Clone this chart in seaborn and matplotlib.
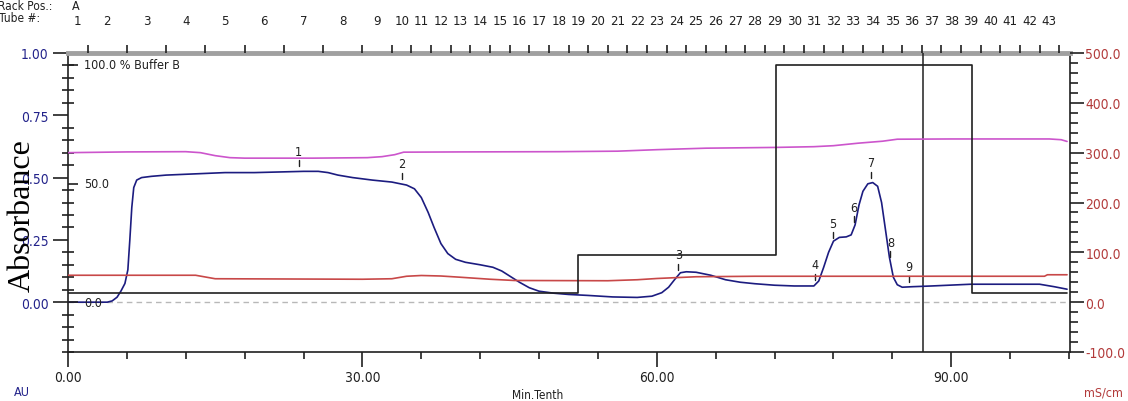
import numpy as np
import pandas as pd
import matplotlib
matplotlib.use("Agg")
import matplotlib.pyplot as plt
import matplotlib.transforms as mtransforms
from matplotlib import font_manager as fm
from matplotlib.ticker import MultipleLocator, FixedLocator, FuncFormatter
import seaborn as sns

# ---------------- data ----------------
# UV absorbance (AU) vs time (Min.Tenth)
uv_time = [0.0, 4.0, 4.5, 5.0, 5.4, 5.8, 6.1, 6.3, 6.5, 6.7, 7.0, 7.5, 8.5, 10, 13, 16, 19, 22, 24,
           25.5, 26.5, 27.5, 29, 31, 33, 34.5, 35.3, 36, 36.7, 37.3, 38.0, 38.7, 39.5, 40.5, 42,
           43.3, 44.2, 45, 46, 47, 48, 49.5, 51, 53, 55.5, 58, 59.5, 60.5, 61.2, 61.8, 62.4, 63,
           64, 65.5, 67, 68.5, 70, 72, 74, 76, 76.5, 77.0, 77.5, 78.0, 78.6, 79.3, 79.8, 80.2,
           80.6, 81.0, 81.5, 82.0, 82.5, 82.9, 83.3, 83.7, 84.1, 84.5, 85.0, 86, 88, 92, 96, 99,
           100.5, 101.8]
uv_abs = [0.0, 0.0, 0.005, 0.02, 0.045, 0.075, 0.13, 0.25, 0.38, 0.46, 0.49, 0.50, 0.505, 0.51,
          0.515, 0.52, 0.52, 0.523, 0.525, 0.525, 0.52, 0.51, 0.50, 0.49, 0.482, 0.47, 0.455,
          0.42, 0.36, 0.30, 0.235, 0.195, 0.172, 0.16, 0.15, 0.14, 0.125, 0.105, 0.08, 0.058,
          0.044, 0.036, 0.031, 0.027, 0.021, 0.019, 0.024, 0.038, 0.06, 0.09, 0.118, 0.122,
          0.12, 0.108, 0.09, 0.08, 0.074, 0.068, 0.065, 0.065, 0.085, 0.14, 0.20, 0.245, 0.26,
          0.262, 0.27, 0.31, 0.39, 0.445, 0.475, 0.48, 0.465, 0.40, 0.29, 0.18, 0.10, 0.07,
          0.06, 0.062, 0.065, 0.072, 0.072, 0.072, 0.062, 0.052]

# pink trace (right axis, mS/cm scale)
pink_time = [0, 6, 12, 13.5, 15, 16.5, 18, 25, 30.5, 32, 33.3, 34.2, 40, 50, 56, 60, 65, 72, 76,
             78, 80.5, 83, 84.5, 90, 100, 101.2, 101.8]
pink_val = [300, 301.5, 302, 300, 294, 290, 289, 289, 290, 292, 296, 301, 301.5, 302, 303, 306,
            309, 310.5, 312, 314, 319, 323, 327, 327.5, 327.5, 326, 322.5]

# red trace (right axis, mS/cm)
red_time = [0, 13, 15, 30, 33, 34.5, 36, 38, 40, 43, 45.5, 55, 58, 60, 64, 70, 99.5, 99.8, 101.8]
red_val = [54, 54, 47, 46, 47, 52, 53.5, 52.5, 50, 46, 43.5, 43, 45, 47.5, 51, 52, 52, 55, 55]

# % Buffer B gradient (step)
buffer_time = [0, 52.0, 72.1, 92.1, 101.8]
buffer_pct = [4, 20, 100, 4, 4]

event_time = 87.1

peak_ids = ["1", "2", "3", "4", "5", "6", "7", "8", "9"]
peak_time = [23.5, 34.0, 62.2, 76.1, 77.9, 80.1, 81.8, 83.8, 85.7]

tube_edges = [0, 2, 6, 10, 14, 18, 22, 26, 30, 33, 35, 37, 39, 41, 43, 45, 47, 49, 51, 53, 55, 57,
              59, 61, 63, 65, 67, 69, 71, 73, 75, 77, 79, 81, 83, 85, 87, 89, 91, 93, 95, 97, 99,
              101]
tube_labels = [str(i) for i in range(1, 44)]

x_major = [0, 30, 60, 90]
buffer_ticks = [0, 50, 100]
buffer_tick_labels = ["0.0", "50.0", "100.0 % Buffer B"]

# ---------------- style ----------------
sns.set_theme(style="white")
fonts = fm.fontManager.ttflist
names = {f.name for f in fonts}
stretch = "normal"
if "Liberation Sans Narrow" in names:
    fam = "Liberation Sans Narrow"
    scale = 1.0
elif any(f.name == "DejaVu Sans" and f.stretch == "condensed" for f in fonts):
    fam = "DejaVu Sans"
    stretch = "condensed"
    scale = 0.9
else:
    fam = "Liberation Sans"
    scale = 0.92
plt.rcParams["font.family"] = [fam, "DejaVu Sans"]
plt.rcParams["font.stretch"] = stretch

NAVY = "#22228a"
BLUE = "#1c1c80"
PINK = "#cc55cc"
RED = "#c84848"
RTXT = "#b23a3a"
DARK = "#202020"

fs_tick = 11 * scale
fs_tube = 10.5 * scale
fs_small = 10 * scale

fig = plt.figure(figsize=(11.28, 4.02), dpi=100)
W, H = 1128, 402
ax = fig.add_axes([68 / W, 1 - 353 / H, (1070 - 68) / W, (353 - 54) / H])
ax.set_xlim(0, 102.1)
ax.set_ylim(-0.2, 1.0)

# zero reference line
ax.axhline(0, color="#b8b8b8", lw=1, ls=(0, (4, 3)), zorder=1)

df_uv = pd.DataFrame({"t": uv_time, "a": uv_abs})
sns.lineplot(data=df_uv, x="t", y="a", ax=ax, color=BLUE, lw=1.2, sort=False, zorder=5)
ax.axvline(event_time, color=DARK, lw=1.1, zorder=4)

# peak markers
for pid, pt in zip(peak_ids, peak_time):
    yv = np.interp(pt, uv_time, uv_abs)
    ax.plot([pt, pt], [yv + 0.02, yv + 0.045], color=DARK, lw=1, zorder=6)
    ax.text(pt, yv + 0.055, pid, ha="center", va="bottom", fontsize=fs_small, color=DARK,
            zorder=6)

# axes formatting (left / bottom)
ax.xaxis.set_major_locator(FixedLocator(x_major))
ax.xaxis.set_minor_locator(MultipleLocator(6))
ax.xaxis.set_major_formatter(FuncFormatter(lambda v, p: f"{v:.2f}"))
ax.yaxis.set_major_locator(MultipleLocator(0.25))
ax.yaxis.set_minor_locator(MultipleLocator(0.05))
ax.yaxis.set_major_formatter(FuncFormatter(lambda v, p: f"{v:.2f}"))
ax.tick_params(axis="x", which="major", direction="out", length=11, width=1.2, pad=2,
               labelsize=fs_tick, colors=DARK, bottom=True)
ax.tick_params(axis="x", which="minor", direction="out", length=5, width=1.2, bottom=True,
               color=DARK)
ax.tick_params(axis="y", which="major", direction="out", length=11, width=1.2, pad=3,
               labelsize=fs_tick, labelcolor=NAVY, color=DARK, left=True, labelleft=True)
ax.tick_params(axis="y", which="minor", direction="inout", length=8, width=1.2, left=True,
               color=DARK)
ax.set_xlabel("")
ax.set_ylabel("")
for s in ["left", "bottom", "right"]:
    ax.spines[s].set_color(DARK)
    ax.spines[s].set_linewidth(1.2)
ax.spines["top"].set_color("#a0a0a0")
ax.spines["top"].set_linewidth(3.5)

# right axis (mS/cm)
ax2 = ax.twinx()
ax2.set_ylim(-100, 500)
df_p = pd.DataFrame({"t": pink_time, "v": pink_val})
df_r = pd.DataFrame({"t": red_time, "v": red_val})
sns.lineplot(data=df_p, x="t", y="v", ax=ax2, color=PINK, lw=1.2, sort=False)
sns.lineplot(data=df_r, x="t", y="v", ax=ax2, color=RED, lw=1.2, sort=False)
ax2.yaxis.set_major_locator(MultipleLocator(100))
ax2.yaxis.set_minor_locator(MultipleLocator(20))
ax2.yaxis.set_major_formatter(FuncFormatter(lambda v, p: f"{v:.1f}"))
ax2.tick_params(axis="y", which="major", direction="out", length=10, width=1.2, pad=1,
                labelsize=fs_tick, labelcolor=RTXT, color=DARK, right=True)
ax2.tick_params(axis="y", which="minor", direction="out", length=6, width=1.2, right=True,
                color=DARK)
ax2.set_ylabel("")
ax2.set_xlabel("")
for s in ax2.spines.values():
    s.set_visible(False)

# %B axis
ax3 = ax.twinx()
kB = 105.0
ax3.set_ylim(-0.2 * kB, 1.0 * kB)
df_b = pd.DataFrame({"t": buffer_time, "b": buffer_pct})
sns.lineplot(data=df_b, x="t", y="b", ax=ax3, color=DARK, lw=1.2, sort=False,
             drawstyle="steps-post")
ax3.yaxis.tick_left()
ax3.yaxis.set_major_locator(FixedLocator(buffer_ticks))
ax3.tick_params(axis="y", which="major", direction="in", length=7, width=1.2,
                labelleft=False, labelright=False, color=DARK)
ax3.tick_params(axis="y", which="minor", left=False, right=False)
ax3.set_ylabel("")
ax3.set_xlabel("")
for s in ax3.spines.values():
    s.set_visible(False)
trB = mtransforms.blended_transform_factory(ax3.transAxes, ax3.transData)
for v, lab in zip(buffer_ticks, buffer_tick_labels):
    ax3.text(0.016, v, lab, transform=trB, ha="left", va="center", fontsize=fs_small,
             color=DARK)

# top tube axis
axt = ax.twiny()
axt.set_xlim(ax.get_xlim())
centers = [(a + b) / 2 for a, b in zip(tube_edges[:-1], tube_edges[1:])]
axt.xaxis.set_major_locator(FixedLocator(centers))
axt.set_xticklabels(tube_labels)
axt.xaxis.set_minor_locator(FixedLocator(tube_edges[1:]))
axt.tick_params(axis="x", which="major", length=0, pad=19, labelsize=fs_tube, colors=DARK)
axt.tick_params(axis="x", which="minor", direction="out", length=6, width=1.2, top=True,
                color=DARK)
for s in axt.spines.values():
    s.set_visible(False)

# figure texts
fig.text(-2 / W, 1 - 7 / H, "Rack Pos.:", ha="left", va="center", fontsize=fs_small * 0.95,
         color=DARK)
fig.text(76 / W, 1 - 7 / H, "A", ha="center", va="center", fontsize=fs_small, color=DARK)
fig.text(-1 / W, 1 - 19 / H, "Tube #:", ha="left", va="center", fontsize=fs_small * 0.95,
         color=DARK)
fig.text(22 / W, 1 - 393 / H, "AU", ha="center", va="center", fontsize=fs_small, color=NAVY)
fig.text(1103 / W, 1 - 393 / H, "mS/cm", ha="center", va="center", fontsize=fs_small,
         color=RTXT)
fig.text(538 / W, 1 - 396 / H, "Min.Tenth", ha="center", va="center", fontsize=9.5 * scale,
         color=DARK)
fig.text(22 / W, 1 - 216 / H, "Absorbance", rotation=90, ha="center", va="center",
         fontsize=23, family=["Liberation Serif", "DejaVu Serif"], stretch="normal",
         color="black")

fig.savefig("out.png", dpi=100)
